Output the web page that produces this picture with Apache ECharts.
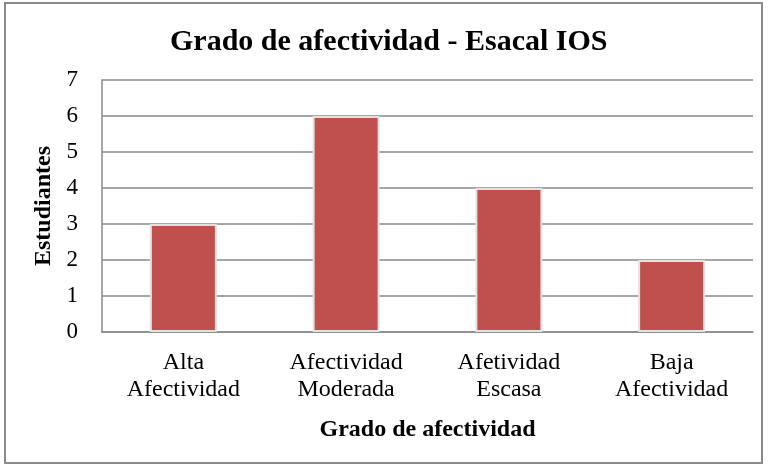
<!DOCTYPE html>
<html>
<head>
<meta charset="utf-8">
<script src="https://cdn.jsdelivr.net/npm/echarts@6/dist/echarts.min.js"></script>
<style>
html, body { margin: 0; padding: 0; background: #fff; }
#chart { width: 768px; height: 468px; }
</style>
</head>
<body>
<div id="chart"></div>
<script>
var categorias = ['Alta\nAfectividad', 'Afectividad\nModerada', 'Afetividad\nEscasa', 'Baja\nAfectividad'];
var estudiantes = [3, 6, 4, 2];
var yTicks = [0, 1, 2, 3, 4, 5, 6, 7];

var fuente = 'Liberation Serif';
var chart = echarts.init(document.getElementById('chart'));
var option = {
    backgroundColor: '#fff',
    textStyle: { fontFamily: fuente, color: '#000' },
    graphic: [{
        type: 'rect',
        shape: { x: 5, y: 3, width: 757, height: 460 },
        style: { fill: 'none', stroke: '#8a8a8a', lineWidth: 2 },
        silent: true
    }],
    title: {
        text: 'Grado de afectividad - Esacal IOS',
        left: 165,
        top: 22,
        textStyle: { fontFamily: fuente, fontSize: 30, fontWeight: 'bold', color: '#000' }
    },
    grid: { left: 102, right: 15, top: 80, bottom: 136 },
    xAxis: {
        type: 'category',
        data: categorias,
        name: 'Grado de afectividad',
        nameLocation: 'middle',
        nameGap: 86,
        nameTextStyle: { fontFamily: fuente, fontSize: 24, fontWeight: 'bold', color: '#000' },
        axisLine: { lineStyle: { color: '#8a8a8a', width: 1.5 } },
        axisTick: { show: false },
        axisLabel: { fontFamily: fuente, fontSize: 24, color: '#000', lineHeight: 27, margin: 17, interval: 0 }
    },
    yAxis: {
        type: 'value',
        min: yTicks[0],
        max: yTicks[yTicks.length - 1],
        interval: 1,
        name: 'Estudiantes',
        nameLocation: 'middle',
        nameGap: 46,
        nameTextStyle: { fontFamily: fuente, fontSize: 24, fontWeight: 'bold', color: '#000' },
        axisLine: { show: true, lineStyle: { color: '#8a8a8a', width: 1.5 } },
        axisTick: { show: false },
        axisLabel: { fontFamily: fuente, fontSize: 23, color: '#000', margin: 24 },
        splitLine: { lineStyle: { color: '#8a8a8a', width: 1.5 } }
    },
    series: [{
        type: 'bar',
        data: estudiantes,
        barWidth: 67,
        itemStyle: { color: '#c0504d', borderColor: '#e2e2e2', borderWidth: 2 },
        silent: true
    }]
};
chart.setOption(option);
</script>
</body>
</html>
